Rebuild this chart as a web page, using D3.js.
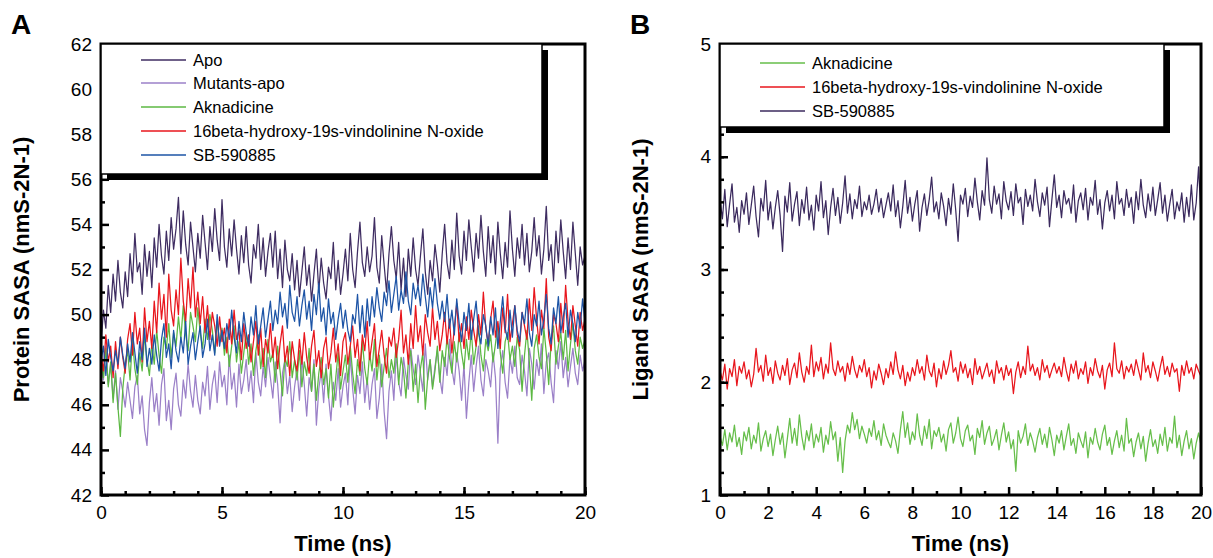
<!DOCTYPE html>
<html>
<head>
<meta charset="utf-8">
<script src="https://cdn.jsdelivr.net/npm/d3@7"></script>
<style>
  body { margin: 0; background: #fff; }
  text { font-family: "Liberation Sans", Arial, sans-serif; fill: #000; }
  .axis path { display: none; }
  .axis line { stroke: #000; stroke-width: 2.5; }
  .axis text { font-size: 19px; }
</style>
</head>
<body>
<svg id="chart" width="1213" height="558"></svg>
<script>
// Time axis shared by all series: 0..20 ns, step 0.1
const times = d3.range(0, 201).map(i => i / 10);

// Panel A: protein SASA (nm^2)
const apo = [
  48.6, 50.2, 49.4, 51.3, 50.1, 51.8, 50.6, 52.4, 51.0, 50.3, 51.9,
  50.8, 52.7, 51.4, 53.6, 51.9, 52.3, 50.9, 53.1, 51.7, 52.8,
  51.2, 53.4, 52.1, 54.0, 52.6, 51.8, 53.7, 52.4, 54.3, 52.9,
  53.8, 55.2, 52.7, 54.6, 53.1, 52.2, 54.1, 53.0, 51.9, 53.6,
  52.5, 54.4, 53.2, 52.0, 53.9, 52.8, 54.7, 53.3, 52.4, 55.1,
  53.0, 52.1, 53.8, 52.6, 54.2, 52.9, 51.8, 53.5, 52.3, 53.9,
  52.2, 51.4, 53.1, 52.5, 54.0, 52.0, 53.4, 51.7, 52.8, 53.6,
  52.1, 53.7, 51.6, 52.9, 51.2, 53.3, 52.0, 51.5, 52.7, 51.1,
  52.4, 50.8, 51.9, 53.0, 51.3, 52.2, 50.6, 51.8, 52.9, 51.0,
  52.5, 51.4, 50.7, 52.1, 51.6, 53.2, 51.1, 52.4, 50.9, 51.8,
  52.9, 51.5, 53.6, 52.0, 51.2, 52.8, 54.1, 52.3, 51.7, 53.0,
  51.9, 52.6, 54.3, 52.1, 51.4, 53.5, 52.2, 51.0, 52.7, 53.9,
  52.4, 51.6, 53.2, 51.1, 52.5, 50.8, 52.9, 51.7, 53.4, 52.0,
  51.3, 52.6, 53.8, 51.9, 50.9, 52.4, 51.5, 53.1, 52.2, 51.0,
  52.7, 54.0, 52.3, 51.6, 53.3, 52.0, 54.5, 52.6, 51.8, 53.7,
  52.4, 54.2, 53.0, 51.9, 53.6, 52.5, 54.4, 52.8, 51.7, 53.9,
  52.3, 53.5, 51.8, 54.1, 52.7, 51.6, 53.2, 52.1, 54.6, 52.9,
  51.7, 53.4, 52.5, 54.0, 52.2, 53.6, 51.9, 52.8, 54.3, 52.6,
  53.5, 51.8, 52.9, 54.8, 52.4, 53.1, 51.5, 53.7, 52.3, 54.2,
  52.8, 51.6, 53.4, 52.0, 54.1, 52.7, 51.3, 53.0, 52.2, 52.6
];

const mutantsApo = [
  48.2, 47.1, 48.6, 46.9, 47.8, 46.3, 47.5, 45.8, 47.2, 46.6, 45.9,
  47.0, 46.2, 45.4, 46.8, 47.3, 45.6, 46.4, 44.9, 44.2, 46.1,
  47.2, 45.7, 46.5, 45.1, 46.9, 47.6, 45.3, 46.2, 44.9, 46.7,
  47.4, 46.0, 45.5, 47.1, 46.3, 47.8, 46.6, 45.9, 47.3, 46.2,
  45.6, 47.0, 46.4, 47.7, 45.8, 46.9, 47.5, 46.1, 47.9, 46.8,
  47.3, 46.0, 48.2, 46.7, 47.4, 45.9, 47.8, 46.5, 47.1, 48.0,
  46.6, 47.5, 46.1, 48.3, 47.0, 46.4, 47.7, 46.8, 48.1, 47.2,
  46.3, 47.9, 46.9, 45.2, 47.4, 48.0, 46.5, 47.3, 45.7, 46.8,
  47.6, 46.2, 48.1, 46.9, 45.5, 47.2, 46.6, 48.0, 45.1, 46.7,
  47.5, 46.1, 47.8, 46.4, 45.3, 47.0, 46.2, 47.6, 45.9, 46.8,
  47.4, 46.0, 48.2, 46.7, 45.6, 47.3, 46.5, 47.9, 46.1, 47.2,
  45.8, 46.9, 47.6, 45.4, 46.3, 47.8, 45.7, 44.5, 46.6, 47.5,
  46.2, 48.3, 47.0, 46.4, 48.1, 47.3, 46.7, 48.5, 47.6, 46.9,
  48.2, 47.4, 46.6, 48.7, 47.1, 48.0, 46.8, 47.7, 48.4, 47.2,
  46.5, 48.1, 47.3, 48.9, 47.6, 46.9, 48.3, 47.5, 46.2, 47.8,
  45.4, 47.0, 48.2, 46.6, 47.7, 48.6, 47.1, 46.4, 48.0, 47.5,
  46.8, 48.3, 47.2, 44.3, 47.6, 48.4, 47.0, 46.3, 48.1, 47.4,
  48.6, 47.2, 46.9, 48.2, 47.5, 46.4, 48.5, 47.8, 46.7, 48.0,
  47.3, 48.7, 46.5, 47.9, 48.3, 47.0, 46.1, 48.4, 47.6, 48.8,
  47.2, 48.1, 46.8, 47.7, 48.5, 47.4, 46.9, 48.2, 47.5, 48.0
];

const aknadicineA = [
  48.0, 47.2, 48.5, 46.8, 47.9, 46.1, 47.4, 45.9, 44.6, 46.7, 47.8,
  48.4, 47.1, 48.9, 47.6, 46.9, 48.3, 47.5, 49.1, 48.0, 47.3,
  48.7, 47.8, 49.3, 48.2, 47.4, 49.0, 48.5, 49.6, 48.1, 49.2,
  48.6, 49.9, 48.9, 50.4, 49.1, 48.4, 50.1, 49.5, 48.8, 50.3,
  49.2, 48.5, 49.8, 48.9, 50.0, 49.3, 48.3, 49.7, 48.8, 49.4,
  48.2, 49.0, 47.7, 48.6, 49.5, 47.9, 48.8, 47.4, 48.3, 49.2,
  47.8, 48.7, 47.3, 48.4, 49.1, 47.6, 48.5, 47.2, 48.9, 47.9,
  48.3, 47.0, 48.6, 47.5, 46.4, 48.1, 47.7, 48.8, 47.2, 48.0,
  47.1, 48.4, 46.8, 47.9, 47.3, 48.5, 46.6, 47.8, 46.2, 47.4,
  48.1, 46.9, 47.6, 46.3, 47.8, 45.9, 47.2, 48.3, 46.7, 47.5,
  48.2, 47.0, 48.6, 47.4, 46.5, 48.0, 47.3, 48.8, 47.6, 46.9,
  48.3, 47.5, 48.9, 47.1, 48.2, 46.8, 47.7, 48.5, 47.2, 48.0,
  47.4, 48.7, 46.9, 48.1, 47.5, 46.3, 47.9, 48.4, 46.6, 47.8,
  46.1, 47.6, 48.3, 45.8, 47.2, 48.0, 46.7, 47.5, 48.6, 47.0,
  48.4, 47.7, 49.0, 48.1, 47.4, 48.8, 47.9, 49.2, 48.3, 47.6,
  48.9, 48.0, 49.3, 47.8, 48.6, 49.5, 48.2, 47.5, 48.9, 48.4,
  49.1, 47.9, 48.7, 49.6, 48.3, 47.4, 48.8, 49.2, 48.0, 48.6,
  47.7, 49.0, 48.4, 46.6, 48.2, 49.3, 47.9, 46.2, 48.5, 49.1,
  48.1, 47.6, 49.4, 48.3, 46.9, 48.8, 49.5, 47.8, 48.6, 49.2,
  48.0, 49.3, 47.5, 48.7, 49.6, 48.4, 47.8, 49.0, 48.5, 48.9
];

const vindolinineA = [
  48.3, 47.5, 49.1, 47.9, 48.6, 47.2, 48.8, 47.6, 49.0, 48.1, 47.4,
  48.9, 49.6, 48.2, 50.1, 48.7, 49.4, 47.9, 50.3, 48.8, 49.7,
  48.5, 50.6, 49.2, 51.4, 49.8, 50.9, 49.0, 51.8, 50.2, 49.5,
  51.1, 50.0, 52.5, 50.6, 49.7, 51.6, 50.3, 52.1, 49.9, 51.0,
  49.6, 50.8, 49.2, 50.4, 48.9, 50.1, 49.5, 48.6, 49.9, 48.8,
  49.4, 48.3, 49.8, 48.7, 50.2, 48.9, 49.3, 48.0, 49.6, 48.5,
  49.1, 47.9, 48.8, 49.7, 48.2, 49.4, 47.7, 48.9, 48.3, 49.6,
  48.1, 49.0, 47.6, 48.7, 49.5, 47.9, 48.6, 47.3, 48.8, 48.0,
  47.5, 48.9, 47.8, 49.2, 48.1, 47.4, 48.6, 49.3, 47.7, 48.4,
  47.2, 48.5, 49.0, 47.6, 48.3, 49.4, 47.9, 48.7, 47.3, 48.8,
  49.2, 47.8, 48.6, 49.5, 48.1, 48.9, 47.5, 49.1, 48.4, 49.7,
  48.0, 48.8, 49.6, 47.7, 48.5, 49.3, 48.2, 47.4, 49.0, 48.6,
  49.4, 48.1, 48.9, 50.2, 48.3, 49.1, 47.8, 49.6, 48.5, 50.4,
  48.8, 49.5, 48.2, 50.0, 49.2, 48.6, 50.3, 48.9, 49.7, 48.4,
  49.1, 50.1, 48.7, 49.8, 48.3, 49.4, 50.5, 48.8, 49.6, 48.5,
  49.9, 48.9, 50.2, 49.3, 48.6, 50.0, 49.1, 51.0, 49.4, 48.7,
  49.8, 50.6, 49.0, 49.7, 48.5, 50.3, 49.2, 50.9, 48.8, 49.6,
  50.4, 49.1, 48.6, 50.1, 49.5, 48.9, 50.7, 49.3, 51.2, 49.8,
  48.7, 50.2, 49.4, 51.6, 49.0, 48.4, 50.0, 49.6, 48.8, 50.5,
  49.2, 51.3, 49.7, 48.9, 50.4, 49.5, 48.6, 50.1, 49.3, 49.8
];

const sbA = [
  47.9, 48.6, 47.3, 48.9, 48.1, 47.5, 48.4, 47.8, 49.0, 48.2, 47.6,
  48.7, 47.9, 49.2, 48.3, 47.4, 48.8, 48.0, 49.4, 47.7, 48.5,
  47.8, 49.1, 48.2, 47.5, 48.9, 49.6, 48.1, 48.7, 47.6, 49.3,
  48.4, 47.9, 49.0, 48.3, 49.7, 47.8, 48.6, 49.2, 48.0, 48.8,
  49.5, 48.1, 48.7, 49.8, 48.4, 49.1, 48.2, 50.0, 48.6, 49.3,
  48.5, 49.6, 48.9, 50.2, 49.0, 48.3, 49.7, 48.8, 50.1, 49.2,
  48.6, 49.9, 49.1, 50.4, 48.7, 49.5, 50.3, 49.0, 49.8, 50.6,
  49.3, 50.2, 49.6, 51.0, 49.9, 50.5, 49.4, 51.3, 50.1, 49.7,
  50.8, 49.5, 50.4, 51.1, 49.8, 50.6, 49.3, 50.9, 50.0, 51.4,
  49.7, 50.3, 49.1, 50.7, 49.6, 50.1, 48.9, 49.8, 50.5, 49.4,
  50.2, 49.3, 48.8, 50.0, 49.6, 50.9, 49.2, 50.4, 49.0, 50.7,
  49.5, 50.8, 49.9, 51.2, 50.3, 49.7, 51.0, 50.4, 51.5, 50.1,
  50.9, 51.7, 50.2, 51.1, 50.5, 51.9, 50.6, 50.0, 51.4, 50.7,
  51.3, 50.4, 51.8, 50.8, 49.9, 51.2, 50.3, 51.6, 50.5, 49.8,
  50.6, 49.7, 50.9, 49.4, 50.2, 49.1, 50.7, 49.6, 48.8, 50.1,
  49.3, 50.5, 48.9, 49.8, 50.6, 49.2, 48.7, 50.0, 49.5, 48.6,
  49.9, 49.1, 50.3, 48.5, 49.7, 50.8, 49.4, 48.9, 50.2, 49.0,
  50.4, 49.3, 48.8, 50.1, 49.6, 50.7, 49.2, 48.6, 50.0, 49.5,
  50.6, 49.1, 49.8, 50.9, 49.4, 48.7, 50.3, 49.6, 50.8, 49.2,
  49.9, 50.5, 49.0, 50.2, 49.6, 48.8, 50.1, 49.4, 50.7, 49.7
];

// Panel B: ligand SASA (nm^2)
const aknadicineB = [
  1.52, 1.44, 1.58, 1.40, 1.55, 1.47, 1.62, 1.43, 1.51, 1.36, 1.56,
  1.48, 1.60, 1.41, 1.53, 1.46, 1.64, 1.39, 1.50, 1.57, 1.43,
  1.54, 1.35, 1.49, 1.61, 1.45, 1.55, 1.33, 1.50, 1.68, 1.46,
  1.59, 1.44, 1.71, 1.52, 1.40, 1.57, 1.48, 1.63, 1.42, 1.54,
  1.47, 1.60, 1.38, 1.53, 1.45, 1.65, 1.49, 1.56, 1.30, 1.51,
  1.20, 1.48, 1.62, 1.55, 1.73, 1.58, 1.67, 1.50, 1.61, 1.54,
  1.46, 1.59, 1.52, 1.66, 1.49, 1.57, 1.44, 1.63, 1.53, 1.47,
  1.42, 1.55, 1.48, 1.37, 1.58, 1.74, 1.51, 1.64, 1.45, 1.56,
  1.49, 1.72, 1.53, 1.44, 1.61, 1.50, 1.67, 1.41, 1.57, 1.52,
  1.60, 1.47, 1.54, 1.39, 1.58, 1.64, 1.46, 1.55, 1.69, 1.50,
  1.43, 1.57, 1.62, 1.48, 1.53, 1.36, 1.59, 1.51, 1.66, 1.45,
  1.55, 1.61, 1.44, 1.50, 1.58, 1.40, 1.53, 1.64, 1.47, 1.56,
  1.41, 1.49, 1.21, 1.57, 1.46, 1.52, 1.63, 1.44, 1.55, 1.48,
  1.38, 1.51, 1.59, 1.45, 1.54, 1.42, 1.60, 1.49, 1.35, 1.53,
  1.46, 1.57, 1.40, 1.52, 1.63, 1.44, 1.50, 1.37, 1.55, 1.48,
  1.42, 1.56, 1.33, 1.51, 1.45, 1.59, 1.47, 1.40, 1.54, 1.62,
  1.44, 1.51, 1.36, 1.48, 1.57, 1.42, 1.53, 1.39, 1.68, 1.46,
  1.50, 1.34, 1.47, 1.55, 1.41, 1.52, 1.30, 1.46, 1.58, 1.43,
  1.49, 1.37, 1.54, 1.44, 1.60, 1.39, 1.51, 1.46, 1.70, 1.42,
  1.53, 1.35, 1.48, 1.57, 1.41, 1.50, 1.32, 1.46, 1.55, 1.44
];

const vindolinineB = [
  2.10, 2.02, 2.16, 1.94, 2.12, 2.05, 2.20, 1.97, 2.14, 2.08, 2.18,
  2.03, 2.11, 1.96, 2.07, 2.30, 2.09, 2.15, 2.01, 2.24, 2.06,
  2.13, 1.99, 2.19, 2.08, 2.02, 2.15, 2.06, 2.21, 1.98, 2.11,
  2.17, 2.04, 2.26, 2.09, 2.00, 2.14, 2.07, 2.33, 2.05, 2.18,
  2.10, 2.22, 2.03, 2.16, 2.08, 2.35, 2.12, 2.06, 2.19, 2.09,
  2.14, 2.01, 2.17, 2.07, 2.23, 2.11, 2.04, 2.15, 2.09, 2.20,
  2.05, 2.13, 1.95, 2.10, 2.02, 2.16, 2.08, 1.98, 2.12, 2.04,
  2.18, 2.07, 2.27, 2.11, 2.03, 2.15, 1.97, 2.09, 2.01, 2.13,
  2.06, 2.20, 2.08, 2.14, 2.02, 2.24, 2.10, 2.05, 2.17, 1.96,
  2.12, 2.03, 2.19, 2.07, 2.15, 2.28, 2.09, 2.13, 2.01, 2.18,
  2.08, 2.16, 2.04, 2.12, 1.98, 2.21, 2.07, 2.14, 2.03, 2.10,
  2.17, 2.05, 2.11, 1.99, 2.19, 2.08, 2.13, 2.02, 2.15, 2.06,
  2.12, 1.90, 2.09, 2.18, 2.04, 2.14, 2.07, 2.32, 2.10, 2.16,
  2.06, 2.13, 2.02, 2.20, 2.09, 2.15, 2.04, 2.11, 2.17, 2.08,
  2.14, 2.05, 2.22, 2.10, 2.01, 2.16, 2.08, 2.19, 2.03, 2.12,
  2.07, 2.18, 1.99, 2.13, 2.06, 2.21, 2.10, 2.04, 2.15, 1.94,
  2.11, 2.17, 2.05, 2.35, 2.12, 2.08, 2.19, 2.03, 2.14, 2.09,
  2.16, 2.06, 2.20, 2.11, 2.02, 2.26, 2.09, 2.15, 2.04, 2.18,
  2.10, 2.01, 2.13, 2.23, 2.07, 2.14, 2.05, 2.17, 2.09, 2.12,
  1.92, 2.15, 2.06, 2.19, 2.08, 2.13, 2.03, 2.16, 2.10, 2.05
];

const sbB = [
  3.62, 3.45, 3.71, 3.38, 3.58, 3.76, 3.42, 3.55, 3.33, 3.61, 3.49,
  3.68, 3.40, 3.57, 3.74, 3.47, 3.29, 3.63, 3.52, 3.79, 3.44,
  3.60, 3.36, 3.55, 3.70, 3.48, 3.16, 3.65, 3.51, 3.77, 3.43,
  3.58, 3.69, 3.39, 3.62, 3.50, 3.73, 3.44, 3.57, 3.35, 3.66,
  3.52, 3.78, 3.46, 3.61, 3.31, 3.55, 3.72, 3.48, 3.64, 3.41,
  3.59, 3.83, 3.50, 3.67, 3.45, 3.62, 3.54, 3.74, 3.47, 3.60,
  3.53, 3.66, 3.49, 3.58, 3.71, 3.51, 3.63, 3.46, 3.57, 3.68,
  3.52, 3.75, 3.47, 3.61, 3.37, 3.56, 3.79, 3.50, 3.64, 3.43,
  3.58, 3.70, 3.34, 3.55, 3.67, 3.48, 3.62, 3.82, 3.51, 3.60,
  3.45, 3.68, 3.56, 3.39, 3.63, 3.49, 3.76, 3.53, 3.25, 3.66,
  3.58, 3.72, 3.47, 3.65, 3.55, 3.81, 3.60, 3.44, 3.70, 3.57,
  3.99, 3.62, 3.50, 3.74, 3.58, 3.67, 3.45, 3.78, 3.61, 3.53,
  3.69, 3.48, 3.76, 3.59, 3.64, 3.40, 3.71, 3.56, 3.66, 3.52,
  3.80, 3.60, 3.47, 3.68, 3.57, 3.73, 3.38, 3.62, 3.84, 3.55,
  3.66, 3.46, 3.70, 3.58, 3.63, 3.50, 3.75, 3.42, 3.61, 3.68,
  3.53, 3.72, 3.44, 3.64, 3.57, 3.79, 3.49, 3.62, 3.36, 3.59,
  3.70, 3.52, 3.66, 3.45, 3.78, 3.58, 3.63, 3.48, 3.71, 3.55,
  3.64, 3.41, 3.69, 3.53, 3.80, 3.57, 3.46, 3.67, 3.52, 3.73,
  3.48, 3.62, 3.77, 3.50, 3.66, 3.43, 3.58, 3.71, 3.45, 3.60,
  3.52, 3.68, 3.42, 3.64, 3.47, 3.75, 3.44, 3.59, 3.91, 3.46
];

const seriesA = [
  { name: 'Apo', values: apo, color: '#3f2d62' },
  { name: 'Mutants-apo', values: mutantsApo, color: '#9b80c8' },
  { name: 'Aknadicine', values: aknadicineA, color: '#5cb843' },
  { name: '16beta-hydroxy-19s-vindolinine N-oxide', values: vindolinineA, color: '#e8161d' },
  { name: 'SB-590885', values: sbA, color: '#1d54a6' }
];

const seriesB = [
  { name: 'Aknadicine', values: aknadicineB, color: '#66be4a' },
  { name: '16beta-hydroxy-19s-vindolinine N-oxide', values: vindolinineB, color: '#e8161d' },
  { name: 'SB-590885', values: sbB, color: '#3b2a5e' }
];

const svg = d3.select('#chart');

function panel ({ letter, left, right, top, bottom, yDomain, yMajor, yMinor, xMajor, xMinor,
  yTitle, series, legend }) {
  const x = d3.scaleLinear().domain([0, 20]).range([left, right]);
  const y = d3.scaleLinear().domain(yDomain).range([bottom, top]);
  const g = svg.append('g');

  // Series
  const line = d3.line()
    .x((d, i) => x(times[i]))
    .y(d => y(d));

  g.append('g')
    .selectAll('path')
      .data(series)
      .enter()
        .append('path')
        .attr('d', d => line(d.values))
        .attr('fill', 'none')
        .attr('stroke', d => d.color)
        .attr('stroke-width', 1.25)
        .attr('stroke-linejoin', 'round');

  // Axes with inward ticks
  g.append('g')
    .attr('class', 'axis')
    .attr('transform', `translate(0,${bottom})`)
    .call(d3.axisBottom(x).tickValues(xMinor).tickSize(-4).tickFormat(''));
  g.append('g')
    .attr('class', 'axis')
    .attr('transform', `translate(0,${bottom})`)
    .call(d3.axisBottom(x).tickValues(xMajor).tickSize(-8).tickPadding(11).tickFormat(d3.format('d')));
  g.append('g')
    .attr('class', 'axis')
    .attr('transform', `translate(${left},0)`)
    .call(d3.axisLeft(y).tickValues(yMinor).tickSize(-4).tickFormat(''));
  g.append('g')
    .attr('class', 'axis')
    .attr('transform', `translate(${left},0)`)
    .call(d3.axisLeft(y).tickValues(yMajor).tickSize(-8).tickPadding(9).tickFormat(d3.format('d')));

  // Frame
  g.append('rect')
    .attr('x', left)
    .attr('y', top)
    .attr('width', right - left)
    .attr('height', bottom - top)
    .attr('fill', 'none')
    .attr('stroke', '#000')
    .attr('stroke-width', 3);

  // Legend box with drop shadow
  const { w, h, lineX, rows } = legend;
  g.append('rect')
    .attr('x', left + 6)
    .attr('y', top + 6)
    .attr('width', w)
    .attr('height', h)
    .attr('fill', '#000');
  g.append('rect')
    .attr('x', left)
    .attr('y', top)
    .attr('width', w)
    .attr('height', h)
    .attr('fill', '#fff')
    .attr('stroke', '#000')
    .attr('stroke-width', 1.5);

  const items = g.append('g')
    .selectAll('g')
      .data(series)
      .enter()
        .append('g')
        .attr('transform', (d, i) => `translate(${left + lineX},${top + rows[i]})`);
  items.append('line')
    .attr('x1', 0)
    .attr('x2', 45)
    .attr('stroke', d => d.color)
    .attr('stroke-width', 1.5);
  items.append('text')
    .attr('x', 52)
    .attr('dy', '0.35em')
    .attr('font-size', 16.5)
    .text(d => d.name);

  // Titles
  g.append('text')
    .attr('x', left - 90)
    .attr('y', 34)
    .attr('font-size', 28)
    .attr('font-weight', 'bold')
    .text(letter);
  g.append('text')
    .attr('transform', `translate(${left - 72},${(top + bottom) / 2}) rotate(-90)`)
    .attr('text-anchor', 'middle')
    .attr('font-size', 22)
    .attr('font-weight', 'bold')
    .text(yTitle);
  g.append('text')
    .attr('x', (left + right) / 2)
    .attr('y', 551)
    .attr('text-anchor', 'middle')
    .attr('font-size', 22)
    .attr('font-weight', 'bold')
    .text('Time (ns)');
}

panel({
  letter: 'A', left: 101, right: 585, top: 44, bottom: 495,
  yDomain: [42, 62],
  yMajor: d3.range(42, 63, 2), yMinor: d3.range(43, 62, 2),
  xMajor: [0, 5, 10, 15, 20], xMinor: d3.range(0, 21, 1),
  yTitle: 'Protein SASA (nmS-2N-1)',
  series: seriesA,
  legend: { w: 441, h: 130, lineX: 40, rows: [16, 39, 63, 87, 111] }
});

panel({
  letter: 'B', left: 720, right: 1201, top: 44, bottom: 495,
  yDomain: [1, 5],
  yMajor: [1, 2, 3, 4, 5], yMinor: d3.range(1.2, 5, 0.2),
  xMajor: d3.range(0, 21, 2), xMinor: d3.range(1, 20, 2),
  yTitle: 'Ligand SASA (nmS-2N-1)',
  series: seriesB,
  legend: { w: 444, h: 83, lineX: 40, rows: [19, 43, 67] }
});
</script>
</body>
</html>
